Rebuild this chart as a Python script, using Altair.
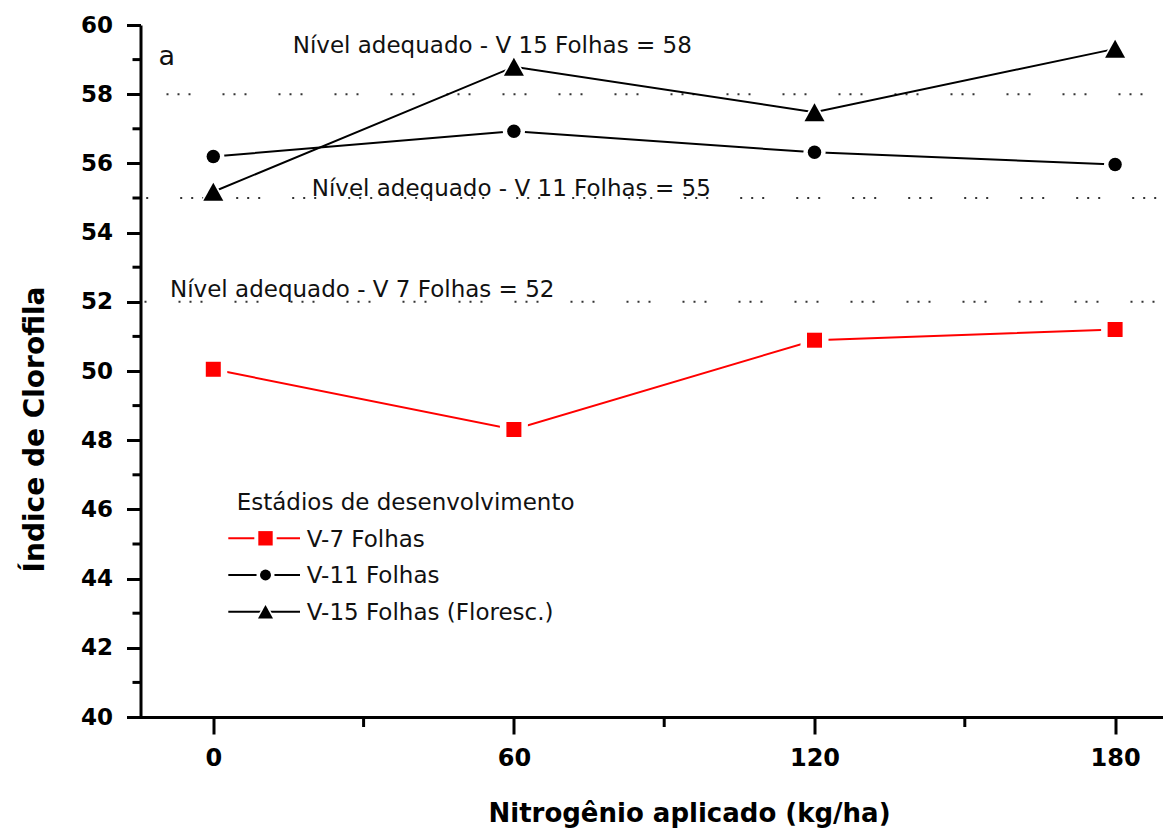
import altair as alt
import pandas as pd

# ---------------- data ----------------
nitrogen = [0, 60, 120, 180]
v7 = [50.05, 48.31, 50.89, 51.20]
v11 = [56.20, 56.93, 56.32, 55.97]
v15 = [55.18, 58.79, 57.48, 59.31]
series_names = ["V-7 Folhas", "V-11 Folhas", "V-15 Folhas (Floresc.)"]

ref_levels = [52, 55, 58]
ref_labels = ["Nível adequado - V 7 Folhas = 52",
              "Nível adequado - V 11 Folhas = 55",
              "Nível adequado - V 15 Folhas = 58"]
ref_label_x = [-8.64, 19.64, 15.85]
ref_label_y = [52.14, 55.05, 59.18]

x_major = [0, 60, 120, 180]
x_minor = [30, 90, 150]
y_major = list(range(40, 61, 2))
y_minor = list(range(41, 60, 2))

legend_title = "Estádios de desenvolvimento"
panel_label = "a"
x_title = "Nitrogênio aplicado (kg/ha)"
y_title = "Índice de Clorofila"

# ---------------- styles ----------------
series_colors = ["#ff0000", "#000000", "#000000"]
tri = "M0,-0.9L1,0.9L-1,0.9Z"
series_shapes = ["square", "circle", tri]
marker_size = [225, 180, 400]
halo_size = [784, 490, 784]
leg_marker_size = [207, 120, 225]
leg_halo_size = [500, 330, 484]
ref_dash_offset = [47.5, 49.2, 35.5]

W, H = 1022.5, 692

df = pd.DataFrame({
    "n": nitrogen * 3,
    "v": v7 + v11 + v15,
    "series": [s for s in series_names for _ in nitrogen],
})
idx = {s: i for i, s in enumerate(series_names)}
df["msize"] = df["series"].map(lambda s: marker_size[idx[s]])
df["hsize"] = df["series"].map(lambda s: halo_size[idx[s]])

ref_df = pd.DataFrame({"level": ref_levels, "label": ref_labels,
                       "lx": ref_label_x, "ly": ref_label_y})

leg_df = pd.DataFrame({"series": series_names, "i": list(range(3))})
leg_df["msize"] = [leg_marker_size[i] for i in leg_df["i"]]
leg_df["hsize"] = [leg_halo_size[i] for i in leg_df["i"]]

FONT = "DejaVu Sans"

X_SCALE = alt.Scale(domain=[-14.53, 189.56], nice=False, zero=False)
Y_SCALE = alt.Scale(domain=[40, 60], nice=False, zero=False)
X_AXIS = alt.Axis(values=x_major, title=x_title, grid=False,
                  domainColor="black", domainWidth=3,
                  tickColor="black", tickWidth=3, tickSize=17,
                  labelFont=FONT, labelFontSize=24, labelFontWeight="bold",
                  labelColor="black", labelPadding=12,
                  titleFont=FONT, titleFontSize=26, titleFontWeight="bold",
                  titleColor="black", titleX=548.5, titleY=104,
                  titleAlign="center", titleBaseline="alphabetic")
Y_AXIS = alt.Axis(values=y_major, title=y_title, grid=False,
                  domainColor="black", domainWidth=3,
                  tickColor="black", tickWidth=3, tickSize=14,
                  labelFont=FONT, labelFontSize=23, labelFontWeight="bold",
                  labelColor="black", labelPadding=14,
                  titleFont=FONT, titleFontSize=28, titleFontWeight="bold",
                  titleColor="black", titleAngle=270, titleX=-97.5, titleY=404,
                  titleAlign="center", titleBaseline="alphabetic")

COLOR = alt.Color("series:N", scale=alt.Scale(domain=series_names, range=series_colors), legend=None)
SHAPE = alt.Shape("series:N", scale=alt.Scale(domain=series_names, range=series_shapes), legend=None)


def xq(f):
    return alt.X(f, type="quantitative", scale=X_SCALE, axis=X_AXIS)


def yq(f):
    return alt.Y(f, type="quantitative", scale=Y_SCALE, axis=Y_AXIS)


base = alt.Chart(df)

# reference dotted lines
ref_layers = []
for i, lev in enumerate(ref_levels):
    ref_layers.append(
        alt.Chart(ref_df).transform_filter(alt.datum.level == lev)
        .mark_rule(color="#333333", strokeWidth=2, strokeDash=[2, 9, 2, 9, 2, 32],
                   strokeDashOffset=ref_dash_offset[i], strokeCap="butt")
        .encode(y=yq("level"))
    )

ref_text = alt.Chart(ref_df).mark_text(
    align="left", baseline="alphabetic", font=FONT, fontSize=23, color="#111111"
).encode(x=xq("lx"), y=yq("ly"), text="label:N")

# minor ticks
ymin_df = pd.DataFrame({"t": y_minor})
xmin_df = pd.DataFrame({"t": x_minor})
y_minor_ticks = alt.Chart(ymin_df).mark_rule(color="black", strokeWidth=3).encode(
    y=yq("t"), x=alt.value(-8), x2=alt.value(0))
x_minor_ticks = alt.Chart(xmin_df).mark_rule(color="black", strokeWidth=3).encode(
    x=xq("t"), y=alt.value(H), y2=alt.value(H + 10))

lines = base.mark_line(strokeWidth=2).encode(
    x=xq("n"), y=yq("v"), color=COLOR, detail="series:N")
halos = base.mark_point(filled=True, opacity=1, color="white").encode(
    x=xq("n"), y=yq("v"), shape=SHAPE, size=alt.Size("hsize:Q", scale=None))
points = base.mark_point(filled=True, opacity=1).encode(
    x=xq("n"), y=yq("v"), shape=SHAPE, color=COLOR, size=alt.Size("msize:Q", scale=None))

# legend (drawn)
leg = alt.Chart(leg_df).transform_calculate(
    ly="513.3 + 36.7 * datum.i", ty="521.7 + 36.7 * datum.i")
leg_lines = leg.mark_rule(strokeWidth=2).encode(
    x=alt.value(87.8), x2=alt.value(159.5),
    y=alt.Y("ly:Q", scale=None, axis=None), color=COLOR)
leg_halos = leg.mark_point(filled=True, opacity=1, color="white").encode(
    x=alt.value(125), y=alt.Y("ly:Q", scale=None, axis=None), shape=SHAPE,
    size=alt.Size("hsize:Q", scale=None))
leg_points = leg.mark_point(filled=True, opacity=1).encode(
    x=alt.value(125), y=alt.Y("ly:Q", scale=None, axis=None), shape=SHAPE,
    color=COLOR, size=alt.Size("msize:Q", scale=None))
leg_text = leg.mark_text(align="left", baseline="alphabetic", font=FONT, fontSize=23,
                         color="#111111").encode(
    x=alt.value(166.2), y=alt.Y("ty:Q", scale=None, axis=None), text="series:N")
leg_title = alt.Chart(pd.DataFrame({"t": [legend_title]})).mark_text(
    align="left", baseline="alphabetic", font=FONT, fontSize=23, color="#111111"
).encode(x=alt.value(96.2), y=alt.value(485), text="t:N")

panel = alt.Chart(pd.DataFrame({"t": [panel_label]})).mark_text(
    align="left", baseline="alphabetic", font=FONT, fontSize=27, color="#111111"
).encode(x=alt.value(18), y=alt.value(40), text="t:N")

chart = alt.layer(
    *ref_layers, ref_text, y_minor_ticks, x_minor_ticks,
    lines, halos, points,
    leg_lines, leg_halos, leg_points, leg_text, leg_title, panel
).properties(
    width=W, height=H,
    padding={"left": 132.5, "top": 17, "right": 0, "bottom": 115},
    autosize=alt.AutoSizeParams(type="none"),
    background="white",
).configure_view(stroke=None)

chart.save("out.html", embed_options={"renderer": "svg", "actions": False})
